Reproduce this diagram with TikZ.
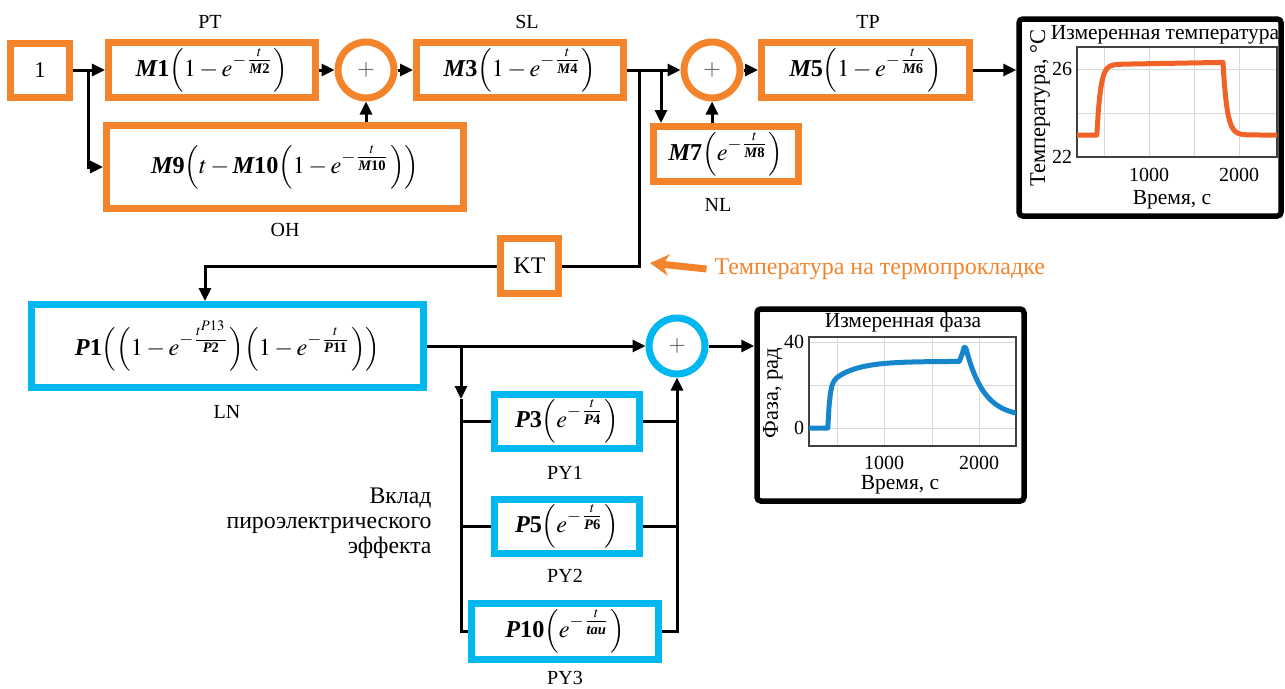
\documentclass[tikz,border=0pt]{standalone}
\usepackage{amsmath}
\usepackage{mathptmx}
\usepackage{fontspec}
\setmainfont{Liberation Serif}
\usetikzlibrary{arrows.meta}

\definecolor{boxorange}{RGB}{243,132,44}
\definecolor{boxblue}{RGB}{0,183,240}
\definecolor{tempcol}{RGB}{240,98,38}
\definecolor{phasecol}{RGB}{22,134,204}

\newcommand{\prm}[2]{\text{\bfseries\itshape #1\upshape #2}}
\newcommand{\lp}{\Bigl(}
\newcommand{\rp}{\Bigr)}
\newcommand{\upbox}[1]{\hbox{\raise0.8pt\hbox{$\scriptscriptstyle #1$}}}
\newcommand{\dnbox}[1]{\hbox{\lower0.8pt\hbox{$\scriptscriptstyle #1$}}}
\newcommand{\ex}[2][t]{e^{-\frac{\upbox{#1}}{\dnbox{#2}}}}

\tikzset{
  oblk/.style={draw=boxorange, line width=2.8pt, inner sep=0pt, font=\fontsize{9.7}{12}\selectfont},
  bblk/.style={oblk, draw=boxblue},
  osum/.style={circle, draw=boxorange, line width=2.8pt, minimum size=22.4pt, inner sep=0pt,
    font=\fontsize{9}{9}\selectfont, text=black!70},
  bsum/.style={osum, draw=boxblue},
  wire/.style={line width=1.2pt},
  conn/.style={wire, -{Triangle[length=5.2pt,width=4.8pt]}},
  lbl/.style={font=\fontsize{8}{9}\selectfont, inner sep=1pt},
  frm/.style={draw, line width=2.2pt, rounded corners=1.5pt, inner sep=0pt},
  axbox/.style={draw=black!75, line width=0.5pt},
  grd/.style={black!15, line width=0.4pt},
  plt/.style={font=\fontsize{8.6}{10}\selectfont, inner sep=1pt},
  tck/.style={font=\fontsize{8}{9}\selectfont, inner sep=1pt},
}

\begin{document}
\begin{tikzpicture}[x=0.4pt,y=-0.4pt]
  \useasboundingbox (0,0) rectangle (1285,688);

  % upper chain (temperature)
  \node[oblk, minimum width=23.2pt, minimum height=21.6pt, font=\fontsize{9}{10}\selectfont] (one) at (40,70) {1};
  \node[oblk, minimum width=82.8pt, minimum height=22pt] (pt) at (212,70)
    {$\prm{M}{1}\lp1-\ex{\prm{M}{2}}\rp$};
  \node[osum] (sum1) at (366,70) {$+$};
  \node[oblk, minimum width=82.8pt, minimum height=22pt] (sl) at (520,70)
    {$\prm{M}{3}\lp1-\ex{\prm{M}{4}}\rp$};
  \node[osum] (sum2) at (712,70) {$+$};
  \node[oblk, minimum width=83.2pt, minimum height=22pt] (tp) at (865.5,70)
    {$\prm{M}{5}\lp1-\ex{\prm{M}{6}}\rp$};
  \node[oblk, minimum width=142.8pt, minimum height=33.2pt] (oh) at (285,167)
    {$\prm{M}{9}\lp t-\prm{M}{10}\lp1-\ex{\prm{M}{10}}\rp\rp$};
  \node[oblk, minimum width=58pt, minimum height=22pt] (nl) at (726,154)
    {$\prm{M}{7}\lp\ex{\prm{M}{8}}\rp$};
  \node[oblk, minimum width=23.2pt, minimum height=22pt, font=\fontsize{9.5}{10}\selectfont] (kt) at (529.5,266) {KT};

  \node[lbl] at (210,22) {PT};
  \node[lbl] at (527,22) {SL};
  \node[lbl] at (868,22) {TP};
  \node[lbl] at (285,230) {OH};
  \node[lbl] at (718,205) {NL};

  % lower chain (phase)
  \node[bblk, minimum width=156.8pt, minimum height=33.2pt] (ln) at (227.5,346)
    {$\prm{P}{1}\lp\lp1-\ex[t^{P13}]{\prm{P}{2}}\rp\lp1-\ex{\prm{P}{11}}\rp\rp$};
  \node[bsum] (sum3) at (677,346) {$+$};
  \node[bblk, minimum width=58pt, minimum height=21.6pt] (py1) at (567,421)
    {$\prm{P}{3}\lp\ex{\prm{P}{4}}\rp$};
  \node[bblk, minimum width=58pt, minimum height=21.6pt] (py2) at (567,526)
    {$\prm{P}{5}\lp\ex{\prm{P}{6}}\rp$};
  \node[bblk, minimum width=74.8pt, minimum height=22.4pt] (py3) at (565,631)
    {$\prm{P}{10}\lp\ex{\prm{tau}{}}\rp$};

  \node[lbl] at (227,412) {LN};
  \node[lbl] at (565,473) {PY1};
  \node[lbl] at (565,576) {PY2};
  \node[lbl] at (565,678) {PY3};
  \node[anchor=east, align=right, font=\fontsize{9.5}{10}\selectfont, inner sep=0pt] (pyro) at (432,523)
    {Вклад\\пироэлектрического\\эффекта};

  % plot frames
  \node[frm, minimum width=104.8pt, minimum height=78.8pt] (tplot) at (1150,117.5) {};
  \node[frm, minimum width=106.8pt, minimum height=76.8pt] (fplot) at (890.5,405) {};

  % junctions
  \coordinate (j0) at (88,70);
  \coordinate (j1) at (639,70);
  \coordinate (j2) at (661,70);
  \coordinate (j3) at (461,346);
  \coordinate (j4) at (461,399);
  \coordinate (ktpt) at (650,263);

  % connectors
  \draw[conn] (one.east) -- (pt.west);
  \draw[conn] (j0) |- (oh.west);
  \draw[conn] (pt.east) -- (sum1.west);
  \draw[conn] (oh.north -| sum1) -- (sum1.south);
  \draw[conn] (sum1.east) -- (sl.west);
  \draw[conn] (sl.east) -- (sum2.west);
  \draw[conn] (j2) -- (j2 |- nl.north);
  \draw[conn] (sum2.south |- nl.north) -- (sum2.south);
  \draw[conn] (sum2.east) -- (tp.west);
  \draw[conn] (tp.east) -- (tp.east -| tplot.west);
  \draw[wire] (j1) |- (kt.east);
  \draw[conn] (kt.west) -| ([xshift=-9pt]ln.north);

  \draw[conn] (ln.east) -- (sum3.west);
  \draw[conn] (j3) -- (j4);
  \draw[wire] (j4) |- (py3.west);
  \draw[wire] (j4 |- py1) -- (py1.west);
  \draw[wire] (j4 |- py2) -- (py2.west);
  \draw[wire] (py1.east) -- (py1.east -| sum3);
  \draw[wire] (py2.east) -- (py2.east -| sum3);
  \draw[conn] (py3.east) -| (sum3.south);
  \draw[conn] (sum3.east) -- (sum3.east -| fplot.west);

  % note on the pad temperature
  \node[anchor=west, text=boxorange, font=\fontsize{9.6}{12}\selectfont, inner sep=0pt] (note) at (714,269)
    {Температура на термопрокладке};
  \draw[boxorange, line width=2.8pt, -{Stealth[length=7.5pt,width=8.5pt]}] ([xshift=-3pt]note.west) -- (ktpt);

  % measured temperature
  \foreach \gx in {1104,1149,1194,1239} \draw[grd] (\gx,47) -- (\gx,157);
  \foreach \gy in {69,113} \draw[grd] (1077,\gy) -- (1277,\gy);
  \draw[axbox] (1077,47) rectangle (1277,157);
  \begin{scope}[shift={(1077,157)}, x=0.03604pt, y=8.8pt]
    \draw[tempcol, line width=2pt, line join=round]
      (0,1) -- (220,1)
      -- plot[domain=220:1620, samples=90] (\x,{1+3.2*(1-exp(-(\x-220)/40))+0.1*(\x-220)/1400})
      -- plot[domain=1620:2220, samples=60] (\x,{1+3.3*exp(-(\x-1620)/45)});
  \end{scope}
  \node[plt] at (1165,35) {Измеренная температура};
  \node[tck, anchor=east] at (1075,69) {26};
  \node[tck, anchor=east] at (1075,157) {22};
  \node[tck] at (1149,175) {1000};
  \node[tck] at (1239,175) {2000};
  \node[plt] at (1172,200) {Время, с};
  \node[plt, rotate=90, font=\fontsize{9}{10}\selectfont] at (1040,108) {Температура, °C};

  % measured phase
  \foreach \gx in {837,884,932,979} \draw[grd] (\gx,337) -- (\gx,446);
  \foreach \gy in {342,385,428} \draw[grd] (809,\gy) -- (1016,\gy);
  \draw[axbox] (809,337) rectangle (1016,446);
  \begin{scope}[shift={(809,428)}, x=0.0376pt, y=0.86pt]
    \draw[phasecol, line width=2pt, line join=round]
      (0,0) -- (200,0)
      -- plot[domain=200:1600, samples=100] (\x,{20*(1-exp(-(\x-200)/20))+11*(1-exp(-(\x-200)/250))})
      -- (1630,34.5) -- (1650,37.5) -- (1662,37.6)
      -- plot[domain=1670:2200, samples=60] (\x,{5+32*exp(-(\x-1670)/190)});
  \end{scope}
  \node[plt] at (903,322) {Измеренная фаза};
  \node[tck, anchor=east] at (807,342) {40};
  \node[tck, anchor=east] at (807,428) {0};
  \node[tck] at (884,463) {1000};
  \node[tck] at (979,463) {2000};
  \node[plt] at (900,485) {Время, с};
  \node[plt, rotate=90, font=\fontsize{9}{10}\selectfont] at (773,393) {Фаза, рад};
\end{tikzpicture}
\end{document}
